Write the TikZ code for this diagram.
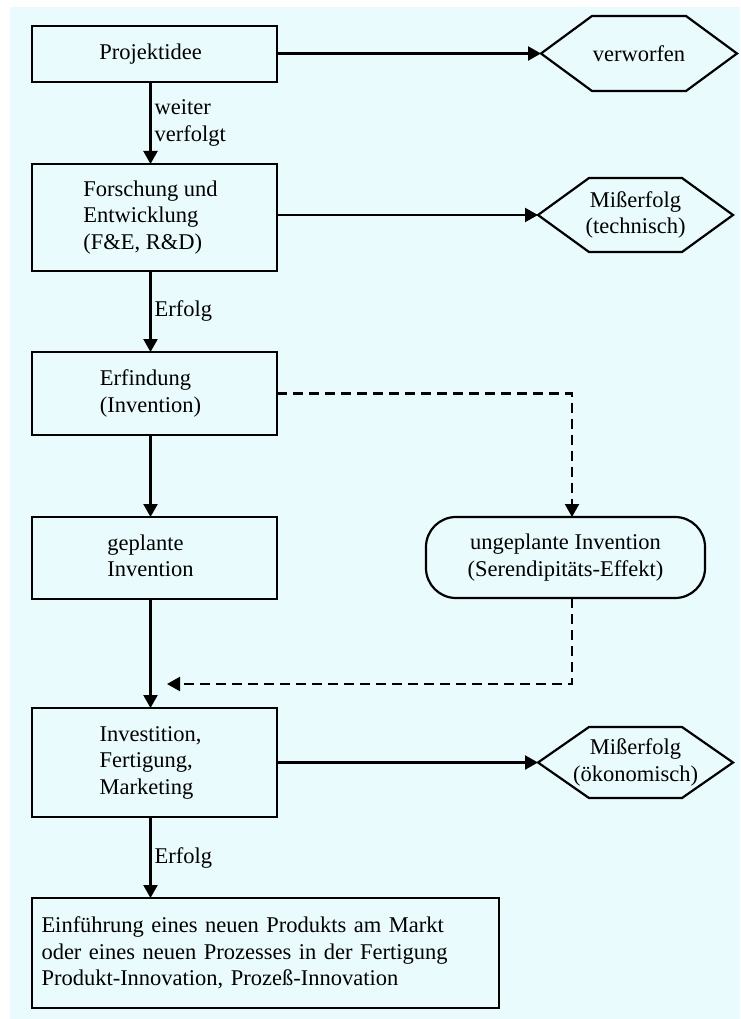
\documentclass[tikz,border=0pt]{standalone}
\usepackage{fontspec}
\setmainfont{Liberation Serif}
\usetikzlibrary{arrows.meta,calc}
\definecolor{paper}{RGB}{233,251,253}
% left-aligned block of lines, nudged a little left of the box centre
\newcommand{\boxlines}[1]{\begin{tabular}{@{}l@{\hspace{8pt}}}#1\end{tabular}}

\begin{document}
\begin{tikzpicture}[x=1pt,y=-1pt,
  every node/.style={font=\fontsize{22.5}{26.5}\selectfont, text=black},
  stage/.style={draw, line width=2.2pt, minimum width=245pt, inner sep=0pt, outer sep=0pt},
  outcome/.style={minimum width=195pt, inner sep=0pt, outer sep=0pt, align=center},
  flow/.style={line width=2.2pt, -{Triangle[length=13pt,width=14pt]}},
  dashflow/.style={flow, dash pattern=on 10pt off 6pt},
  hexline/.style={line width=2.2pt, line join=miter},
  lbl/.style={right, align=left, inner sep=3pt}
]
\useasboundingbox (0,0) rectangle (740,1019);
\fill[white] (0,0) rectangle (740,1019);
\fill[paper] (10,7) rectangle (740,1019);

% main chain of stages
\node[stage, minimum height=56pt]  (idee) at (154.5,54)    {\boxlines{Projektidee}};
\node[stage, minimum height=107pt] (fue)  at (154.5,217.5) {\boxlines{Forschung und\\Entwicklung\\(F\&E, R\&D)}};
\node[stage, minimum height=83pt]  (erf)  at (154.5,393.5) {\boxlines{Erfindung\\(Invention)}};
\node[stage, minimum height=82pt]  (gep)  at (154.5,558)   {\boxlines{geplante\\Invention}};
\node[stage, minimum height=109pt] (inv)  at (154.5,762.5) {\boxlines{Investition,\\Fertigung,\\Marketing}};
\node[stage, minimum width=467pt, minimum height=110pt, text width=448pt,
      inner xsep=9.5pt, align=left] (markt) at (265.5,953)
  {Einführung eines neuen Produkts am Markt\\oder eines neuen Prozesses in der Fertigung\\Produkt-Innovation, Prozeß-Innovation};

% unplanned invention
\node[draw, line width=2.2pt, rounded corners=30pt, minimum width=279pt, minimum height=81pt,
      inner sep=0pt, outer sep=0pt, align=center] (ung) at (565.5,557.5)
  {ungeplante Invention\\(Serendipitäts-Effekt)};

% outcomes on the right
\node[outcome, minimum width=196pt, minimum height=75pt] (vw) at (639,53.5)   {verworfen};
\node[outcome, minimum height=74pt] (mt) at (635.5,215)   {Mißerfolg\\(technisch)};
\node[outcome, minimum height=71pt] (mo) at (635.5,762.5) {Mißerfolg\\(ökonomisch)};
\foreach \h in {vw,mt,mo}
  \draw[hexline] (\h.west) -- ([xshift=51pt]\h.north west) -- ([xshift=-51pt]\h.north east)
    -- (\h.east) -- ([xshift=-51pt]\h.south east) -- ([xshift=51pt]\h.south west) -- cycle;

% vertical flow
\draw[flow] ([xshift=-4pt]idee.south) -- node[lbl] {weiter\\verfolgt} ([xshift=-4pt]fue.north);
\draw[flow] ([xshift=-4pt]fue.south) -- node[lbl] {Erfolg} ([xshift=-4pt]erf.north);
\draw[flow] ([xshift=-4pt]erf.south) -- ([xshift=-4pt]gep.north);
\draw[flow] ([xshift=-4pt]gep.south) -- ([xshift=-4pt]inv.north);
\draw[flow] ([xshift=-4pt]inv.south) -- node[lbl] {Erfolg} ([xshift=-4pt]markt.north -| idee.south);

% branches to the outcomes
\draw[flow] (idee.east |- vw.west) -- (vw.west);
\draw[flow] (fue.east |- mt.west) -- (mt.west);
\draw[flow] (inv.east |- mo.west) -- (mo.west);

% serendipity loop
\coordinate (merge) at (167,684);
\draw[dashflow] (erf.east) -| ([xshift=6.5pt]ung.north);
\draw[dashflow] ([xshift=6.5pt]ung.south) |- (merge);
\end{tikzpicture}
\end{document}
